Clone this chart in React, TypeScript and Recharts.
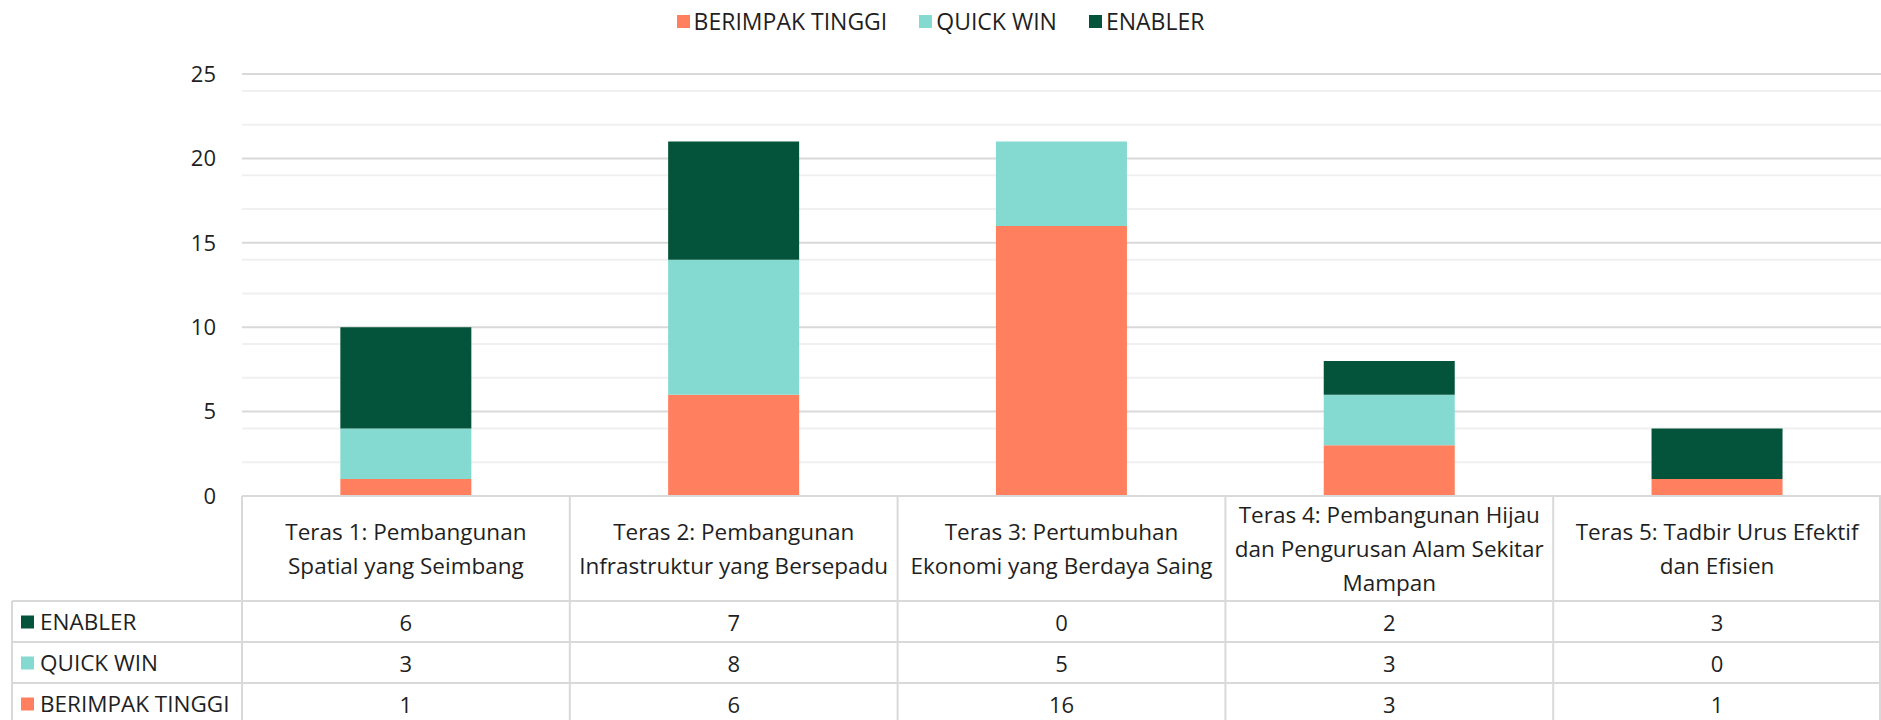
import React from 'react';
import { BarChart, Bar, XAxis, YAxis, CartesianGrid, Legend } from 'recharts';

// categories (line breaks as shown in the data table header)
const categories = [
  'Teras 1: Pembangunan\nSpatial yang Seimbang',
  'Teras 2: Pembangunan\nInfrastruktur yang Bersepadu',
  'Teras 3: Pertumbuhan\nEkonomi yang Berdaya Saing',
  'Teras 4: Pembangunan Hijau\ndan Pengurusan Alam Sekitar\nMampan',
  'Teras 5: Tadbir Urus Efektif\ndan Efisien',
];

const berimpakTinggi = [1, 6, 16, 3, 1];
const quickWin = [3, 8, 5, 3, 0];
const enabler = [6, 7, 0, 2, 3];

const yTicks = [0, 5, 10, 15, 20, 25];
const minorTicks = [1, 2, 3, 4, 6, 7, 8, 9, 11, 12, 13, 14, 16, 17, 18, 19, 21, 22, 23, 24];

const series = [
  { key: 'berimpak', name: 'BERIMPAK TINGGI', color: '#FF7F5E', values: berimpakTinggi },
  { key: 'quick', name: 'QUICK WIN', color: '#84D9D1', values: quickWin },
  { key: 'enabler', name: 'ENABLER', color: '#04543B', values: enabler },
];

const data = categories.map((name, i) => {
  const row: any = { name };
  series.forEach((s) => (row[s.key] = s.values[i]));
  return row;
});

const W = 1881;
const H = 720;
const LEFT = 242;
const TOP = 74;
const AXIS_H = 224;
const COL_W = (W - LEFT) / categories.length;
const HEADER_H = 105;
const ROW_H = 41;
const TABLE_LEFT = 12;
const FONT = '"Open Sans", "Noto Sans", sans-serif';
const TEXT = '#1f1f1f';
const BORDER = '#d9d9d9';

// table rows are listed top-down, reversed from the stack order
const tableRows = [...series].reverse();

const TableColumn = (props: any) => {
  const { x, y, payload } = props;
  const idx = payload.index;
  const left = x - COL_W / 2;
  const lines = String(payload.value).split('\n');
  const midY = y + HEADER_H / 2;
  const lh = 34;
  const tableBottom = y + HEADER_H + ROW_H * tableRows.length;
  return (
    <g>
      <line x1={left} x2={left + COL_W} y1={y} y2={y} stroke={BORDER} strokeWidth={2} />
      <line x1={left} x2={left} y1={y} y2={tableBottom} stroke={BORDER} strokeWidth={2} />
      {idx === categories.length - 1 && (
        <line x1={left + COL_W - 1} x2={left + COL_W - 1} y1={y} y2={tableBottom} stroke={BORDER} strokeWidth={2} />
      )}
      {lines.map((t, k) => (
        <text
          key={k}
          x={x}
          y={midY + (k - (lines.length - 1) / 2) * lh}
          textAnchor="middle"
          dominantBaseline="central"
          fontSize={22.5}
          fontFamily={FONT}
          fill={TEXT}
        >
          {t}
        </text>
      ))}
      {tableRows.map((s, r) => {
        const rowTop = y + HEADER_H + r * ROW_H;
        return (
          <g key={s.key}>
            <line x1={left} x2={left + COL_W} y1={rowTop} y2={rowTop} stroke={BORDER} strokeWidth={2} />
            <text
              x={x}
              y={rowTop + ROW_H / 2}
              textAnchor="middle"
              dominantBaseline="central"
              fontSize={22}
              fontFamily={FONT}
              fill={TEXT}
            >
              {s.values[idx]}
            </text>
            {idx === 0 && (
              <g>
                <line x1={TABLE_LEFT} x2={left} y1={rowTop} y2={rowTop} stroke={BORDER} strokeWidth={2} />
                <line x1={TABLE_LEFT} x2={TABLE_LEFT} y1={rowTop} y2={rowTop + ROW_H} stroke={BORDER} strokeWidth={2} />
                <rect x={TABLE_LEFT + 9} y={rowTop + ROW_H / 2 - 6} width={13} height={13} fill={s.color} />
                <text
                  x={TABLE_LEFT + 28}
                  y={rowTop + ROW_H / 2}
                  dominantBaseline="central"
                  fontSize={22.5}
                  fontFamily={FONT}
                  fill={TEXT}
                >
                  {s.name}
                </text>
              </g>
            )}
          </g>
        );
      })}
    </g>
  );
};

// legend keeps the series order (bottom of the stack first)
const LegendContent = () => (
  <div style={{ display: 'flex', justifyContent: 'center', gap: 32, fontFamily: FONT, fontSize: 23, color: TEXT }}>
    {series.map((s) => (
      <div key={s.key} style={{ display: 'flex', alignItems: 'center' }}>
        <span style={{ width: 13, height: 13, background: s.color, marginRight: 4, display: 'inline-block' }} />
        <span>{s.name}</span>
      </div>
    ))}
  </div>
);

export default function App() {
  return (
    <div style={{ position: 'absolute', left: 0, top: 0, background: '#fff' }}>
      <BarChart
        width={W}
        height={H}
        data={data}
        margin={{ top: TOP, right: 0, left: 0, bottom: 0 }}
        barCategoryGap="30%"
      >
        <CartesianGrid vertical={false} horizontalValues={minorTicks} stroke="#f0f0f0" strokeWidth={2} />
        <CartesianGrid vertical={false} horizontalValues={yTicks.filter((v) => v > 0)} stroke="#d9d9d9" strokeWidth={2} />
        <XAxis
          dataKey="name"
          height={AXIS_H}
          axisLine={false}
          tickLine={false}
          tickSize={0}
          tickMargin={0}
          interval={0}
          tick={<TableColumn />}
        />
        <YAxis
          width={LEFT}
          domain={[0, 25]}
          ticks={yTicks}
          axisLine={false}
          tickLine={false}
          tickSize={0}
          tickMargin={26}
          tick={{ fontSize: 22, fontFamily: FONT, fill: TEXT }}
        />
        <Legend
          verticalAlign="middle"
          align="center"
          layout="horizontal"
          wrapperStyle={{ top: 5, left: 0, width: W }}
          content={<LegendContent />}
        />
        {series.map((s) => (
          <Bar key={s.key} dataKey={s.key} name={s.name} stackId="a" fill={s.color} isAnimationActive={false} />
        ))}
      </BarChart>
    </div>
  );
}
